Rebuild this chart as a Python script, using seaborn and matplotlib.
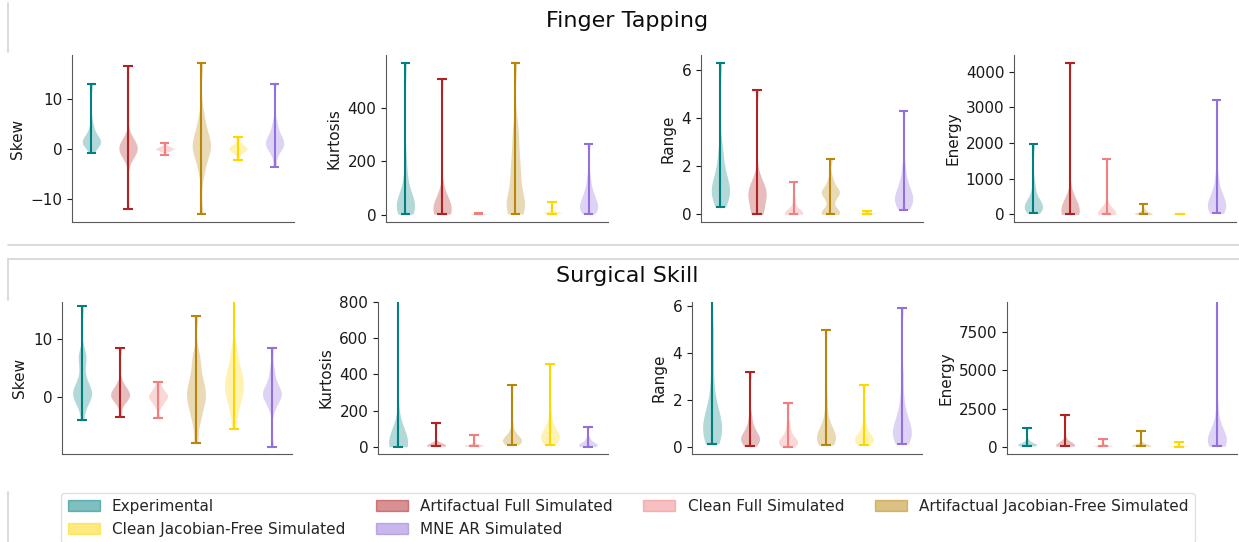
import numpy as np
import pandas as pd
import matplotlib
matplotlib.use("Agg")
import matplotlib.pyplot as plt
from matplotlib.patches import Patch
from matplotlib.lines import Line2D
import seaborn as sns

# ---------------- data ----------------
groups = ["Experimental", "Artifactual Full Simulated", "Clean Full Simulated",
          "Artifactual Jacobian-Free Simulated", "Clean Jacobian-Free Simulated",
          "MNE AR Simulated"]
colors = ["#008080", "#b22222", "#f08080", "#b8860b", "#ffd700", "#9370db"]
row_titles = ["Finger Tapping", "Surgical Skill"]
metrics = ["Skew", "Kurtosis", "Range", "Energy"]

# Finger Tapping samples (one list per group, in `groups` order)
ft_skew = [
    [-0.7, 0.2, 0.6, 0.9, 1.1, 1.3, 1.5, 1.7, 1.9, 2.2, 2.6, 3.0, 3.8, 5.0, 13.0],
    [-12.0, -1.5, -0.9, -0.6, -0.3, -0.1, 0.1, 0.3, 0.5, 0.7, 0.9, 1.3, 1.9, 16.5],
    [-1.1, -0.5, -0.3, -0.1, 0.0, 0.1, 0.2, 0.4, 0.6, 1.2],
    [-13.0, -5.0, -3.0, -1.5, -0.5, 0.0, 0.5, 1.0, 1.5, 2.5, 3.5, 5.0, 7.0, 17.2],
    [-2.1, -1.0, -0.5, -0.2, 0.0, 0.2, 0.4, 0.7, 1.2, 2.3],
    [-3.6, -1.0, 0.0, 0.5, 0.8, 1.1, 1.4, 1.8, 2.3, 3.0, 4.0, 5.5, 13.0],
]
ft_kurtosis = [
    [3, 8, 12, 18, 25, 30, 35, 42, 50, 60, 75, 95, 130, 190, 569],
    [3, 5, 8, 11, 14, 18, 22, 28, 35, 45, 60, 90, 508],
    [2, 3, 3.5, 4, 5, 6, 8],
    [3, 10, 20, 30, 40, 55, 80, 110, 140, 170, 200, 240, 290, 340, 569],
    [5, 6, 7, 8, 8.5, 9, 10, 12, 15, 50],
    [3, 10, 18, 25, 32, 40, 48, 58, 70, 85, 105, 140, 265],
]
ft_range = [
    [0.3, 0.5, 0.65, 0.8, 0.9, 1.0, 1.1, 1.25, 1.4, 1.6, 1.9, 2.3, 2.8, 6.3],
    [0.0, 0.05, 0.1, 0.2, 0.5, 0.7, 0.8, 0.9, 0.95, 1.0, 1.1, 1.3, 1.6, 5.15],
    [0.0, 0.02, 0.04, 0.06, 0.08, 0.1, 0.15, 0.25, 0.4, 0.7, 1.35],
    [0.0, 0.03, 0.06, 0.1, 0.15, 0.5, 0.75, 0.85, 0.9, 0.95, 1.05, 1.2, 1.5, 2.3],
    [0.0, 0.02, 0.04, 0.05, 0.06, 0.08, 0.1, 0.15],
    [0.2, 0.35, 0.45, 0.55, 0.6, 0.7, 0.8, 0.9, 1.05, 1.25, 1.5, 2.0, 4.3],
]
ft_energy = [
    [30, 80, 120, 160, 200, 230, 270, 320, 380, 460, 600, 850, 1970],
    [0, 15, 30, 45, 60, 75, 90, 110, 130, 160, 200, 260, 350, 4250],
    [0, 5, 10, 15, 20, 30, 45, 70, 120, 300, 1540],
    [0, 5, 10, 18, 25, 35, 50, 70, 100, 150, 300],
    [0, 2, 4, 6, 8, 10, 14, 20],
    [30, 80, 130, 180, 220, 260, 310, 370, 450, 560, 750, 1100, 3200],
]

# Surgical Skill samples
ss_skew = [
    [-3.85, -1.5, -0.5, 0.0, 0.3, 0.6, 0.9, 1.3, 1.8, 2.5, 4.0, 6.0, 7.0, 7.5, 15.5],
    [-3.3, -1.0, -0.3, 0.0, 0.3, 0.5, 0.8, 1.1, 1.6, 2.5, 8.4],
    [-3.5, -1.5, -0.8, -0.3, 0.0, 0.3, 0.6, 1.0, 1.6, 2.6],
    [-7.7, -4.5, -3.0, -2.0, -1.0, -0.3, 0.3, 0.9, 1.5, 2.3, 3.2, 4.5, 6.0, 7.5, 13.9],
    [-5.4, -2.5, -1.0, 0.0, 0.8, 1.5, 2.0, 2.6, 3.2, 4.0, 5.0, 6.5, 8.5, 22.0],
    [-8.4, -2.0, -0.8, -0.2, 0.2, 0.5, 0.8, 1.1, 1.5, 2.2, 3.5, 5.0, 8.4],
]
ss_kurtosis = [
    [0, 2, 4, 6, 8, 10, 12, 14, 17, 20, 24, 28, 34, 42, 55, 75, 110, 170, 1150],
    [3, 4, 5, 6, 7, 8, 10, 12, 16, 25, 130],
    [3, 4, 5, 6, 7, 9, 12, 20, 65],
    [12, 18, 22, 26, 30, 33, 36, 40, 45, 52, 62, 80, 120, 340],
    [12, 25, 35, 42, 48, 54, 60, 68, 78, 90, 110, 140, 200, 455],
    [0, 3, 6, 9, 12, 15, 20, 26, 35, 50, 108],
]
ss_range = [
    [0.15, 0.35, 0.5, 0.6, 0.7, 0.8, 0.9, 1.0, 1.15, 1.35, 1.7, 2.3, 3.5, 5.0, 9.0],
    [0.05, 0.15, 0.25, 0.3, 0.35, 0.4, 0.45, 0.55, 0.7, 0.9, 1.3, 3.2],
    [0.0, 0.08, 0.15, 0.2, 0.25, 0.3, 0.38, 0.5, 0.7, 1.0, 1.9],
    [0.1, 0.2, 0.28, 0.33, 0.38, 0.42, 0.48, 0.55, 0.65, 0.85, 1.2, 2.0, 5.0],
    [0.1, 0.18, 0.24, 0.28, 0.32, 0.36, 0.42, 0.5, 0.62, 0.85, 1.3, 2.65],
    [0.15, 0.3, 0.4, 0.5, 0.6, 0.7, 0.8, 0.95, 1.15, 1.45, 2.0, 3.0, 5.9],
]
ss_energy = [
    [50, 70, 90, 110, 130, 150, 180, 220, 300, 450, 1230],
    [30, 45, 60, 75, 90, 110, 140, 190, 280, 500, 2080],
    [20, 30, 40, 50, 60, 75, 95, 130, 200, 480],
    [30, 40, 50, 60, 70, 85, 100, 130, 180, 300, 1000],
    [10, 20, 30, 40, 50, 60, 80, 110, 160, 300],
    [30, 80, 130, 180, 230, 280, 330, 380, 430, 490, 560, 650, 760, 900, 1100,
     1400, 1900, 2800, 10500],
]

ft_yticks = [[-10, 0, 10], [0, 200, 400], [0, 2, 4, 6], [0, 1000, 2000, 3000, 4000]]
ss_yticks = [[0, 10], [0, 200, 400, 600, 800], [0, 2, 4, 6], [0, 2500, 5000, 7500]]
ss_ylims = [(-9.6, 16.2), (-40, 800), (-0.28, 6.17), (-478, 9490)]

# ---------------- figure ----------------
sns.set_style("ticks")
plt.rcParams["font.family"] = ["DejaVu Sans"]
W, H = 1239, 542
fig = plt.figure(figsize=(W / 100, H / 100), dpi=100)


def fx(px):
    return px / W


def fy(py):
    return 1 - py / H


def draw_panel(ax, samples, ylabel, yticks, ylim=None):
    df = pd.DataFrame({
        "group": np.repeat(groups, [len(s) for s in samples]),
        "value": np.concatenate([np.asarray(s, float) for s in samples]),
    })
    sns.violinplot(data=df, x="group", y="value", hue="group", order=groups,
                   hue_order=groups, palette=colors, inner=None, cut=0,
                   density_norm="width", width=0.5, linewidth=0, alpha=0.3,
                   saturation=1, bw_adjust=0.5, legend=False, ax=ax)
    for i, s in enumerate(samples):
        lo, hi = min(s), max(s)
        ax.vlines(i, lo, hi, color=colors[i], lw=1.5)
        ax.hlines([lo, hi], i - 0.125, i + 0.125, color=colors[i], lw=1.5)
    ax.set_xlim(-0.53, 5.53)
    if ylim is not None:
        ax.set_ylim(*ylim)
    ax.set_yticks(yticks)
    ax.set_xticks([])
    ax.set_xlabel("")
    ax.set_ylabel(ylabel, fontsize=11, color="0.1")
    ax.tick_params(axis="y", labelsize=11, colors="0.1")
    for sp in ["top", "right"]:
        ax.spines[sp].set_visible(False)
    for sp in ["left", "bottom"]:
        ax.spines[sp].set_color("0.35")


ft_data = [ft_skew, ft_kurtosis, ft_range, ft_energy]
ss_data = [ss_skew, ss_kurtosis, ss_range, ss_energy]

top_lefts = [72, 386, 701, 1014]
bot_lefts = [62, 378, 692, 1007]

for k in range(4):
    ax = fig.add_axes([fx(top_lefts[k]), fy(222), fx(222), (222 - 55) / H])
    draw_panel(ax, ft_data[k], metrics[k], ft_yticks[k])
    ax = fig.add_axes([fx(bot_lefts[k]), fy(454), fx(230), (454 - 302) / H])
    draw_panel(ax, ss_data[k], metrics[k], ss_yticks[k], ss_ylims[k])

fig.text(fx(627), fy(21), row_titles[0], ha="center", va="center", fontsize=16,
         color="0.05")
fig.text(fx(627), fy(276), row_titles[1], ha="center", va="center", fontsize=16,
         color="0.05")

# subfigure frame fragments
gray = "#d4d4d4"
for (x0, y0, x1, y1) in [(8, 3, 8, 52), (8, 245, W, 245), (8, 259, W, 259),
                         (8, 259, 8, 300), (8, 492, 8, H)]:
    fig.add_artist(Line2D([fx(x0), fx(x1)], [fy(y0), fy(y1)],
                          color=gray, lw=1.2, transform=fig.transFigure))

handles = [Patch(facecolor=c, edgecolor=c, alpha=0.5, label=g)
           for g, c in zip(groups, colors)]
# matplotlib fills legend columns first; reorder so entries read row by row
legend_order = [0, 4, 1, 5, 2, 3]
fig.legend(handles=[handles[i] for i in legend_order], loc="upper center",
           bbox_to_anchor=(fx(628), fy(493)), ncol=4, fontsize=11,
           handlelength=2.1, frameon=True, edgecolor="0.85", borderaxespad=0)

fig.savefig("out.png", dpi=100)
